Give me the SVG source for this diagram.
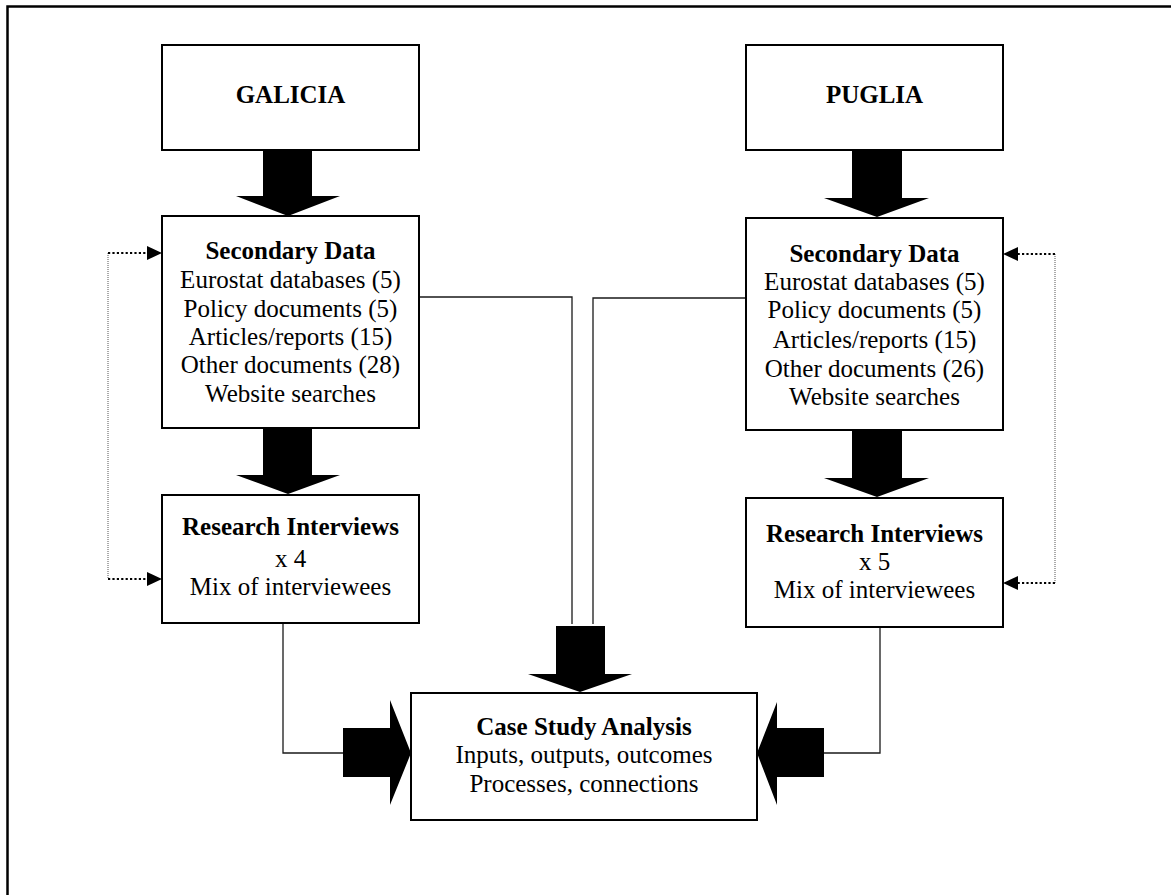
<svg xmlns="http://www.w3.org/2000/svg" width="1171" height="895" viewBox="0 0 1171 895">
  <style>
    .box { fill: #ffffff; stroke: #000000; stroke-width: 2; }
    .frame { fill: none; stroke: #000000; stroke-width: 2.5; }
    .link { fill: none; stroke: #1a1a1a; stroke-width: 1.3; }
    .dotv { fill: none; stroke: #555555; stroke-width: 1; stroke-dasharray: 1 1; }
    .doth { fill: none; stroke: #000000; stroke-width: 2.2; stroke-dasharray: 2.2 2.2; }
    .block { fill: #000000; }
    .head { fill: #000000; }
    text { font-family: "Liberation Serif", "Times New Roman", serif; font-size: 25px; fill: #000000; text-anchor: middle; }
    .b { font-weight: bold; }
  </style>

  <!-- page frame (left and top edges) -->
  <path class="frame" d="M7.5 895 V6.5 H1171"/>

  <!-- connectors -->
  <g id="connectors">
    <!-- thin feeder lines into the analysis box -->
    <path class="link" d="M419 297 H572 V624"/>
    <path class="link" d="M746 298 H593 V624"/>
    <path class="link" d="M283 623 V753 H344"/>
    <path class="link" d="M880 627 V753 H823"/>

    <!-- dotted feedback loops -->
    <path class="dotv" d="M108 253 V579"/>
    <path class="doth" d="M108 253 H148"/>
    <path class="doth" d="M108 579 H148"/>
    <polygon class="head" points="147,246 162,253 147,260"/>
    <polygon class="head" points="147,572 162,579 147,586"/>

    <path class="dotv" d="M1055 254 V583"/>
    <path class="doth" d="M1055 254 H1017"/>
    <path class="doth" d="M1055 583 H1017"/>
    <polygon class="head" points="1018,247 1003,254 1018,261"/>
    <polygon class="head" points="1018,576 1003,583 1018,590"/>

    <!-- block arrows, left column -->
    <polygon class="block" points="263,150 312,150 312,196 340,196 288,216 236,196 263,196"/>
    <polygon class="block" points="263,428 312,428 312,475 340,475 288,494 236,475 263,475"/>
    <!-- block arrows, right column -->
    <polygon class="block" points="852,150 902,150 902,198 929,198 877,217 824,198 852,198"/>
    <polygon class="block" points="852,430 902,430 902,478 929,478 877,497 824,478 852,478"/>
    <!-- block arrows into the analysis box -->
    <polygon class="block" points="556,626 605,626 605,674 632,674 580,692 528,674 556,674"/>
    <polygon class="block" points="343,728 390,728 390,700 411,753 390,805 390,777 343,777"/>
    <polygon class="block" points="824,728 777,728 777,702 757,753 777,805 777,777 824,777"/>
  </g>

  <!-- Galicia column -->
  <g id="galicia">
    <rect class="box" x="162" y="45" width="257" height="105"/>
    <text class="b" x="290.5" y="103">GALICIA</text>
  </g>
  <g id="galicia-secondary">
    <rect class="box" x="162" y="216" width="257" height="212"/>
    <text class="b" x="290.5" y="259">Secondary Data</text>
    <text x="290.5" y="288">Eurostat databases (5)</text>
    <text x="290.5" y="317">Policy documents (5)</text>
    <text x="290.5" y="345">Articles/reports (15)</text>
    <text x="290.5" y="373">Other documents (28)</text>
    <text x="290.5" y="402">Website searches</text>
  </g>
  <g id="galicia-interviews">
    <rect class="box" x="162" y="495" width="257" height="128"/>
    <text class="b" x="290.5" y="535">Research Interviews</text>
    <text x="290.5" y="567">x 4</text>
    <text x="290.5" y="595">Mix of interviewees</text>
  </g>

  <!-- Puglia column -->
  <g id="puglia">
    <rect class="box" x="746" y="45" width="257" height="105"/>
    <text class="b" x="874.5" y="103">PUGLIA</text>
  </g>
  <g id="puglia-secondary">
    <rect class="box" x="746" y="218" width="257" height="212"/>
    <text class="b" x="874.5" y="262">Secondary Data</text>
    <text x="874.5" y="290">Eurostat databases (5)</text>
    <text x="874.5" y="318">Policy documents (5)</text>
    <text x="874.5" y="348">Articles/reports (15)</text>
    <text x="874.5" y="377">Other documents (26)</text>
    <text x="874.5" y="405">Website searches</text>
  </g>
  <g id="puglia-interviews">
    <rect class="box" x="746" y="498" width="257" height="129"/>
    <text class="b" x="874.5" y="542">Research Interviews</text>
    <text x="874.5" y="570">x 5</text>
    <text x="874.5" y="598">Mix of interviewees</text>
  </g>

  <!-- Analysis -->
  <g id="case-study">
    <rect class="box" x="411" y="693" width="346" height="127"/>
    <text class="b" x="584" y="735">Case Study Analysis</text>
    <text x="584" y="763">Inputs, outputs, outcomes</text>
    <text x="584" y="792">Processes, connections</text>
  </g>
</svg>
